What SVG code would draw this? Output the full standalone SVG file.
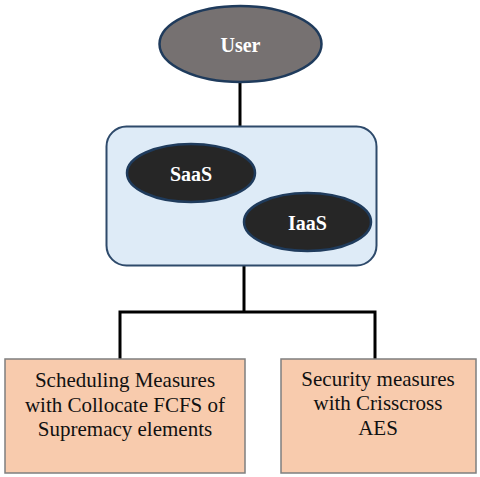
<svg xmlns="http://www.w3.org/2000/svg" width="480" height="477" viewBox="0 0 480 477">
<style>
.ell{stroke:#1f3b5c;stroke-width:2.5}
.w{font-family:'Liberation Serif','Times New Roman',Times,serif;font-weight:bold;font-size:20px;fill:#ffffff;text-anchor:middle}
.b{font-family:'Liberation Serif','Times New Roman',Times,serif;font-size:21px;fill:#111111;text-anchor:middle}
.box{fill:#f8cbad;stroke:#7f7f7f;stroke-width:1.5}
.conn{stroke:#000000;stroke-width:3;fill:none}
</style>
<rect width="480" height="477" fill="#ffffff"/>
<g id="connectors">
<line class="conn" x1="240" y1="82" x2="240" y2="127"/>
<polyline class="conn" points="244,266 244,312"/>
<polyline class="conn" points="120,359 120,312 375,312 375,359"/>
</g>
<g id="user">
<ellipse class="ell" cx="240.5" cy="44" rx="81" ry="38" fill="#767171"/>
<text class="w" x="240.5" y="52">User</text>
</g>
<g id="cloud">
<rect x="106.5" y="126.5" width="270" height="139" rx="20" fill="#deebf7" stroke="#2e4a6b" stroke-width="2"/>
</g>
<g id="saas">
<ellipse class="ell" cx="191" cy="173" rx="64" ry="29" fill="#262626"/>
<text class="w" x="191" y="181">SaaS</text>
</g>
<g id="iaas">
<ellipse class="ell" cx="307.5" cy="222" rx="63.5" ry="29" fill="#262626"/>
<text class="w" x="307.5" y="230">IaaS</text>
</g>
<g id="scheduling">
<rect class="box" x="5" y="359" width="240" height="114"/>
<text class="b" x="125" y="387">Scheduling Measures</text>
<text class="b" x="125" y="412">with Collocate FCFS of</text>
<text class="b" x="125" y="436">Supremacy elements</text>
</g>
<g id="security">
<rect class="box" x="281" y="359" width="195" height="114"/>
<text class="b" x="378" y="386">Security measures</text>
<text class="b" x="378" y="410">with Crisscross</text>
<text class="b" x="378" y="435">AES</text>
</g>
</svg>
